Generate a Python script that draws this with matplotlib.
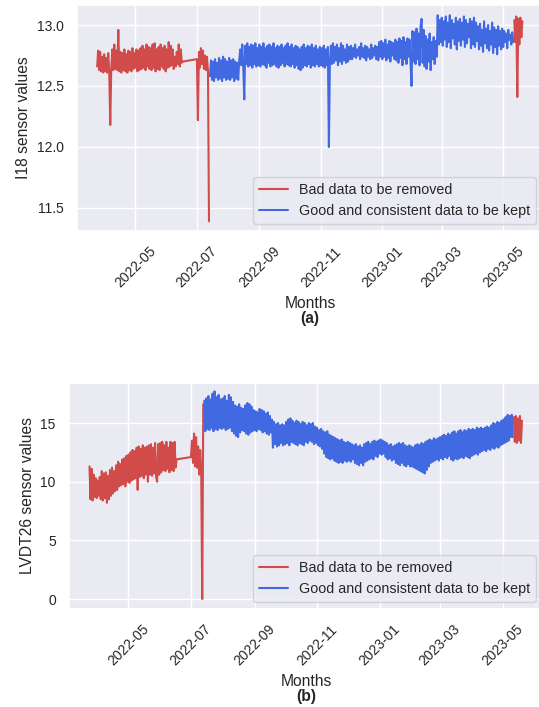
import matplotlib
matplotlib.use("Agg")
import matplotlib.pyplot as plt
import matplotlib.dates as mdates
import pandas as pd
import seaborn as sns

# ---------------- data (daily readings) ----------------
legend_labels = ["Bad data to be removed", "Good and consistent data to be kept"]
month_ticks = [1, 3, 5, 7, 9, 11]

i18_red_a_start = "2022-03-24"
i18_red_a = [
    12.66, 12.79, 12.63, 12.78, 12.62, 12.74, 12.61, 12.76, 12.62, 12.73,
    12.61, 12.77, 12.62, 12.18, 12.64, 12.80, 12.63, 12.84, 12.64, 12.79,
    12.63, 12.96, 12.62, 12.78, 12.61, 12.77, 12.63, 12.80, 12.62, 12.76,
    12.61, 12.79, 12.63, 12.78, 12.62, 12.81, 12.64, 12.77, 12.65, 12.80,
    12.62, 12.79, 12.63, 12.81, 12.64, 12.83, 12.65, 12.80, 12.63, 12.84,
    12.66, 12.82, 12.64, 12.81, 12.63, 12.84, 12.65, 12.85, 12.62, 12.80,
    12.64, 12.82, 12.63, 12.84, 12.66, 12.81, 12.64, 12.83, 12.62, 12.80,
    12.65, 12.86, 12.66, 12.83, 12.67, 12.80, 12.64, 12.74, 12.66, 12.78,
    12.68, 12.84, 12.66, 12.80, 12.69, 12.70,
]
i18_red_b_start = "2022-07-01"
i18_red_b = [12.72, 12.22, 12.78, 12.65, 12.81, 12.68, 12.79, 12.64, 12.75, 12.63,
             12.74, 12.62, 11.39]
i18_blue_start = "2022-07-14"
i18_blue = [
    # Jul 14-31
    12.58, 12.71, 12.55, 12.70, 12.54, 12.72, 12.57, 12.69, 12.55, 12.73,
    12.56, 12.71, 12.54, 12.74, 12.57, 12.72, 12.55, 12.70,
    # Aug
    12.56, 12.73, 12.55, 12.71, 12.57, 12.72, 12.54, 12.70, 12.56, 12.69, 12.55, 12.71,
    12.80, 12.67, 12.84, 12.66, 12.39, 12.83, 12.68, 12.85, 12.66, 12.82, 12.67, 12.84,
    12.65, 12.83, 12.68, 12.85, 12.66, 12.81, 12.67,
    # Sep
    12.84, 12.66, 12.82, 12.68, 12.85, 12.67, 12.81, 12.65, 12.83, 12.69,
    12.84, 12.66, 12.82, 12.67, 12.85, 12.68, 12.81, 12.66, 12.83, 12.65,
    12.82, 12.67, 12.84, 12.69, 12.81, 12.66, 12.83, 12.68, 12.85, 12.67,
    # Oct
    12.82, 12.66, 12.84, 12.68, 12.81, 12.65, 12.83, 12.67, 12.82, 12.64,
    12.80, 12.63, 12.82, 12.65, 12.84, 12.67, 12.81, 12.66, 12.83, 12.68,
    12.82, 12.65, 12.84, 12.67, 12.81, 12.66, 12.83, 12.68, 12.80, 12.66, 12.82,
    # Nov
    12.67, 12.81, 12.66, 12.83, 12.65, 12.80, 12.67, 12.82,
    12.00,
    12.70, 12.83, 12.68, 12.85, 12.69, 12.82, 12.71, 12.84, 12.67, 12.81,
    12.70, 12.85, 12.68, 12.83, 12.71, 12.80, 12.69, 12.84, 12.70, 12.82, 12.72,
    # Dec
    12.83, 12.72, 12.81, 12.74, 12.84, 12.73, 12.80, 12.75, 12.82, 12.72,
    12.85, 12.74, 12.81, 12.73, 12.83, 12.71, 12.82, 12.74, 12.80, 12.72,
    12.84, 12.73, 12.81, 12.75, 12.83, 12.72, 12.82, 12.71, 12.86, 12.74, 12.87,
    # Jan
    12.72, 12.85, 12.74, 12.88, 12.71, 12.84, 12.73, 12.87, 12.70, 12.86,
    12.75, 12.85, 12.72, 12.88, 12.71, 12.86,
    12.69, 12.89, 12.73, 12.87, 12.67, 12.90, 12.72, 12.86, 12.68, 12.89,
    12.74, 12.88, 12.70,
    12.50, 12.95,
    # Feb
    12.70, 12.94, 12.68, 12.97, 12.72, 12.93, 12.67, 12.99, 13.05, 12.69, 12.96,
    12.66, 12.91, 12.64, 12.88, 12.70, 12.93, 12.63, 12.86, 12.72, 12.90,
    12.68, 12.87, 12.74,
    13.08, 12.84, 13.04, 12.86,
    # Mar
    13.06, 12.83, 13.03, 12.88, 13.07, 12.82, 13.02, 12.86, 13.08, 12.81,
    13.04, 12.89, 13.01, 12.84, 13.06, 12.80, 13.03, 12.87, 13.05, 12.83,
    13.02, 12.88, 13.07, 12.82, 13.04, 12.85, 13.01, 12.90, 13.05, 12.81, 13.03,
    # Apr
    12.84, 13.06, 12.82, 13.02, 12.87,
    12.99, 12.80, 13.01, 12.83, 12.96, 12.78, 13.03, 12.85, 12.97, 12.81,
    13.00, 12.79, 12.95, 12.84, 13.02, 12.77, 12.98, 12.82, 12.96, 12.76,
    12.99, 12.83, 12.95, 12.80, 12.97,
    # May 1-11
    12.82, 12.95, 12.86, 12.93, 12.81, 12.96, 12.88, 12.92, 12.84, 12.94, 12.86,
]
i18_red_c_start = "2023-05-12"
i18_red_c = [13.04, 12.86, 13.07, 12.41, 13.05, 12.84, 13.06, 12.90, 13.03]

lvdt_red_a_start = "2022-03-24"
lvdt_red_a = [
    11.3, 8.5, 11.1, 8.4, 10.6, 8.7, 10.3, 8.6, 10.1, 8.8,
    10.4, 8.5, 10.9, 8.4, 10.7, 8.6, 10.8, 8.2, 10.5, 8.5,
    11.0, 8.8, 11.2, 9.0, 10.9, 9.2, 11.4, 9.3, 11.7, 9.6,
    11.5, 9.7, 11.9, 9.8, 12.0, 9.6, 12.2, 10.0, 12.3, 9.9,
    12.5, 10.1, 12.7, 10.2, 12.6, 10.3, 12.9, 9.3, 13.0, 10.4,
    12.8, 10.5, 13.1, 10.3, 12.9, 10.6, 13.0, 10.0, 13.1, 10.6,
    13.2, 10.5, 12.9, 10.7, 13.3, 10.4, 10.0, 13.2, 10.6, 13.3,
    10.8, 13.4, 11.0, 13.1, 10.9, 13.4, 11.1, 12.9, 10.8, 13.4,
    11.0, 13.3, 10.9, 13.4, 11.2, 11.9,
]
lvdt_red_b_start = "2022-07-01"
lvdt_red_b = [12.1, 13.5, 11.6, 14.1, 11.3, 13.8, 11.2, 13.0, 10.6, 12.7, 11.0, 0.0, 16.6]
lvdt_blue_start = "2022-07-14"
lvdt_blue = [
    # Jul 14-31
    16.9, 14.3, 17.1, 14.5, 17.3, 14.4, 17.0, 14.6, 17.5, 14.3,
    17.7, 14.5, 17.2, 14.4, 17.4, 14.6, 17.0, 14.5,
    # Aug
    17.1, 14.6, 17.3, 14.4, 16.9, 14.5, 17.4, 14.6, 17.2, 14.3,
    16.8, 14.1, 16.5, 13.9, 16.4, 13.8, 16.6, 14.2, 16.3, 14.4,
    16.2, 14.3, 16.5, 14.1, 16.7, 14.0, 16.6, 14.2, 16.4, 14.3, 16.1,
    # Sep
    14.4, 16.0, 14.3, 15.9, 14.5, 16.2, 14.4, 16.1, 14.2, 16.0,
    14.3, 15.8, 14.1, 15.9, 14.0, 15.6, 14.2, 15.3, 12.9, 15.1,
    13.2, 14.9, 13.0, 15.0, 13.1, 14.8, 13.3, 14.9, 13.1, 14.8,
    # Oct
    13.2, 15.1, 13.3, 15.3, 13.1, 15.4, 13.4, 15.2, 13.3, 15.0,
    13.2, 15.2, 13.1, 15.1, 13.3, 14.9, 13.2, 15.1, 13.1, 15.0,
    13.4, 14.8, 13.3, 15.0, 13.5, 14.9, 13.4, 15.0, 13.2, 14.7, 13.3,
    # Nov
    14.6, 13.1, 14.4, 13.0, 14.5, 12.8, 14.3, 12.4, 14.2, 12.1,
    14.3, 12.0, 14.0, 11.9, 13.9, 12.0, 13.8, 11.8, 13.7, 11.7,
    13.6, 11.6, 13.5, 11.7, 13.6, 11.6, 13.4, 11.8, 13.3, 11.7,
    # Dec
    13.4, 11.8, 13.3, 11.7, 13.2, 11.9, 13.1, 11.6, 13.2, 11.5,
    13.0, 11.4, 13.1, 11.6, 12.9, 11.4, 13.2, 11.7, 13.3, 11.8,
    13.4, 11.9, 13.2, 12.0, 13.4, 11.9, 13.5, 12.2, 13.4, 12.1, 13.5,
    # Jan
    12.4, 13.6, 12.3, 13.5, 12.4, 13.4, 12.1, 13.3, 11.9, 13.1,
    12.0, 13.2, 11.8, 13.0, 11.9, 13.1, 11.6, 13.2, 11.5, 13.3,
    11.4, 13.2, 11.6, 13.3, 11.4, 13.1, 11.3, 13.0, 11.5, 13.1, 11.3,
    # Feb
    13.0, 11.3, 12.9, 11.2, 13.1, 11.1, 13.2, 11.0, 13.1, 10.9,
    13.3, 10.8, 13.2, 10.7, 13.4, 11.0, 13.5, 11.3, 13.6, 11.6,
    13.5, 11.7, 13.7, 11.8, 13.6, 11.9, 13.7, 11.8,
    # Mar
    13.8, 12.0, 13.9, 11.9, 14.0, 12.1, 13.9, 12.0, 14.1, 12.2,
    14.0, 11.9, 14.2, 11.8, 14.3, 12.0, 14.1, 11.9, 14.3, 12.0,
    14.4, 12.1, 14.2, 12.0, 14.4, 12.2, 14.3, 12.1, 14.5, 12.0, 14.4,
    # Apr
    12.2, 14.5, 12.3, 14.4, 12.4, 14.6, 12.3, 14.5, 12.5, 14.6,
    12.6, 14.5, 12.7, 14.6, 12.6, 14.7, 12.8, 14.6, 12.7, 14.8,
    12.9, 15.0, 12.8, 14.9, 13.0, 15.1, 12.9, 15.0, 13.1, 15.2,
    # May 1-11
    13.2, 15.3, 13.3, 15.5, 13.4, 15.7, 13.5, 15.6, 13.8, 15.7, 13.8,
]
lvdt_red_c_start = "2023-05-12"
lvdt_red_c = [15.5, 13.4, 15.6, 13.3, 15.4, 13.5, 15.6, 13.3, 15.2]

# ---------------- style ----------------
sns.set_theme(style="darkgrid")
plt.rcParams["font.family"] = ["Liberation Sans", "DejaVu Sans"]

RED = "#d24b4b"
BLUE = "#4169e1"
LW = 1.5


def days(start, values):
    return pd.date_range(start, periods=len(values), freq="D")


W, H = 539, 707
fig = plt.figure(figsize=(W / 100, H / 100), dpi=100)


def add_axes(left, top, right, bottom):
    return fig.add_axes([left / W, 1 - bottom / H, (right - left) / W, (bottom - top) / H])


def panel(ax, ra_s, ra, rb_s, rb, b_s, b, rc_s, rc, ylabel, ylim, yticks, tag, tag_y):
    red_x = days(ra_s, ra).append(days(rb_s, rb))
    red_y = list(ra) + list(rb)
    ax.plot(red_x, red_y, color=RED, lw=LW, label=legend_labels[0])
    ax.plot(days(b_s, b), b, color=BLUE, lw=LW, label=legend_labels[1])
    ax.plot(days(rc_s, rc), rc, color=RED, lw=LW)
    ax.set_xlim(pd.Timestamp("2022-03-04"), pd.Timestamp("2023-06-09 12:00"))
    ax.set_ylim(*ylim)
    ax.set_yticks(yticks)
    ax.xaxis.set_major_locator(mdates.MonthLocator(bymonth=month_ticks))
    ax.xaxis.set_major_formatter(mdates.DateFormatter("%Y-%m"))
    ax.tick_params(axis="x", labelrotation=45, labelsize=10)
    ax.tick_params(axis="y", labelsize=10)
    ax.set_ylabel(ylabel, fontsize=11.25)
    ax.set_xlabel("Months", fontsize=11.25)
    ax.legend(loc="lower right", fontsize=10.3)
    pos = ax.get_position()
    fig.text((pos.x0 + min(pos.x1, 1.0075)) / 2, 1 - tag_y / H, tag, ha="center", va="center",
             fontsize=11.25, fontweight="bold", color="0.15")


ax1 = add_axes(77, 5, 543, 231)
panel(ax1, i18_red_a_start, i18_red_a, i18_red_b_start, i18_red_b,
      i18_blue_start, i18_blue, i18_red_c_start, i18_red_c,
      "I18 sensor values", (11.311, 13.164), [11.5, 12.0, 12.5, 13.0], "(a)", 318)

ax2 = add_axes(69, 383, 543, 609)
panel(ax2, lvdt_red_a_start, lvdt_red_a, lvdt_red_b_start, lvdt_red_b,
      lvdt_blue_start, lvdt_blue, lvdt_red_c_start, lvdt_red_c,
      "LVDT26 sensor values", (-0.85, 18.41), [0, 5, 10, 15], "(b)", 696)

fig.savefig("out.png", dpi=100)
